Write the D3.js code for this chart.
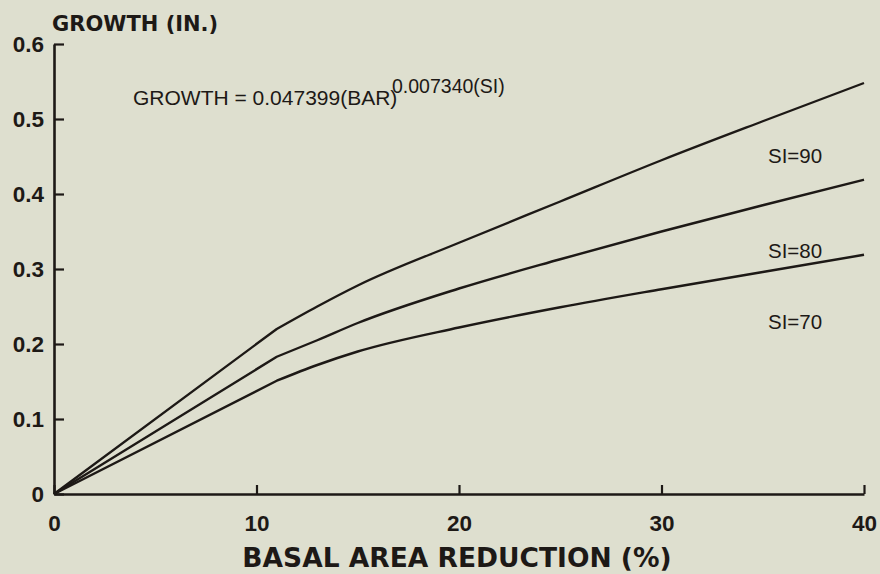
<!DOCTYPE html>
<html>
<head>
<meta charset="utf-8">
<script src="https://cdn.jsdelivr.net/npm/d3@7"></script>
<style>
  body { margin: 0; background: #dedfcf; }
  svg { display: block; }
</style>
</head>
<body>
<div id="chart"></div>
<script>
// basal area reduction (%)
var bar = [0, 11, 13, 15, 20, 25, 30, 35, 40];
// growth (in.) per site index
var si90 = [0, 0.22, 0.25, 0.278, 0.335, 0.39, 0.445, 0.497, 0.548];
var si80 = [0, 0.183, 0.205, 0.228, 0.274, 0.313, 0.35, 0.385, 0.419];
var si70 = [0, 0.151, 0.172, 0.19, 0.222, 0.249, 0.273, 0.296, 0.319];
var seriesNames = ["SI=90", "SI=80", "SI=70"];
var labelValues = [0.451, 0.324, 0.23]; // vertical spot of each SI label
var xTicks = [0, 10, 20, 30, 40];
var yTicks = [0, 0.1, 0.2, 0.3, 0.4, 0.5, 0.6];

function drawChart(selector){
    var width = 880, height = 574;
    var ink = "#1d1916";
    var svg = d3.select(selector)
        .append("svg")
        .attr("width", width)
        .attr("height", height)
        .style("background", "#dedfcf");

    var x = d3.scaleLinear().domain([0, 40]).range([54, 864]);
    var y = d3.scaleLinear().domain([0, 0.6]).range([494, 44]);

    // axes, ticks pointing inward
    var xAxis = d3.axisBottom(x)
        .tickValues(xTicks)
        .tickFormat(d3.format("d"))
        .tickSizeInner(-9)
        .tickSizeOuter(0)
        .tickPadding(21);
    var yAxis = d3.axisLeft(y)
        .tickValues(yTicks)
        .tickFormat(function(d){ return d === 0 ? "0" : d3.format(".1f")(d); })
        .tickSizeInner(-10)
        .tickSizeOuter(0)
        .tickPadding(10);

    var gx = svg.append("g")
        .attr("transform", "translate(0," + y(0) + ")")
        .call(xAxis);
    var gy = svg.append("g")
        .attr("transform", "translate(" + x(0) + ",0)")
        .call(yAxis);

    [gx, gy].forEach(function(g){
        g.select(".domain").attr("stroke", ink).attr("stroke-width", 2.6);
        g.selectAll(".tick line").attr("stroke", ink).attr("stroke-width", 2.2);
        g.selectAll(".tick text")
            .attr("fill", ink)
            .style("font-family", "'Liberation Sans', Arial, sans-serif")
            .style("font-weight", "bold")
            .style("font-size", "22.5px");
    });

    // curves: straight run up to the 11% break, smooth after it
    var series = [si90, si80, si70];
    var straight = d3.line()
        .x(function(d){ return x(d[0]); })
        .y(function(d){ return y(d[1]); })
        .curve(d3.curveLinear);
    var smooth = d3.line()
        .x(function(d){ return x(d[0]); })
        .y(function(d){ return y(d[1]); })
        .curve(d3.curveMonotoneX);

    series.forEach(function(vals){
        var pts = vals.map(function(v, i){ return [bar[i], v]; });
        svg.append("path")
            .attr("d", straight(pts.slice(0, 2)) + smooth(pts.slice(1)).replace(/^M/, "L"))
            .attr("fill", "none")
            .attr("stroke", ink)
            .attr("stroke-width", 2.4)
            .attr("stroke-linejoin", "round");
    });

    svg.selectAll(".si-label")
        .data(seriesNames).enter().append("text")
            .attr("class", "si-label")
            .attr("x", 768)
            .attr("y", function(d, i){ return y(labelValues[i]) + 7; })
            .attr("fill", ink)
            .style("font-family", "'Liberation Sans', Arial, sans-serif")
            .style("font-size", "20.5px")
            .text(function(d){ return d; });

    // titles
    svg.append("text")
        .attr("x", 52)
        .attr("y", 31)
        .attr("fill", ink)
        .style("font-family", "'DejaVu Sans', sans-serif")
        .style("font-weight", "bold")
        .style("font-size", "21px")
        .text("GROWTH (IN.)");

    svg.append("text")
        .attr("x", 457)
        .attr("y", 567)
        .attr("text-anchor", "middle")
        .attr("fill", ink)
        .style("font-family", "'DejaVu Sans', sans-serif")
        .style("font-weight", "bold")
        .style("font-size", "26.5px")
        .text("BASAL AREA REDUCTION (%)");

    // equation with its exponent
    svg.append("text")
        .attr("x", 133)
        .attr("y", 105)
        .attr("fill", ink)
        .style("font-family", "'Liberation Sans', Arial, sans-serif")
        .style("font-size", "21px")
        .text("GROWTH = 0.047399(BAR)");
    svg.append("text")
        .attr("x", 392)
        .attr("y", 93)
        .attr("fill", ink)
        .style("font-family", "'Liberation Sans', Arial, sans-serif")
        .style("font-size", "19.5px")
        .text("0.007340(SI)");
}

drawChart("#chart");
</script>
</body>
</html>
